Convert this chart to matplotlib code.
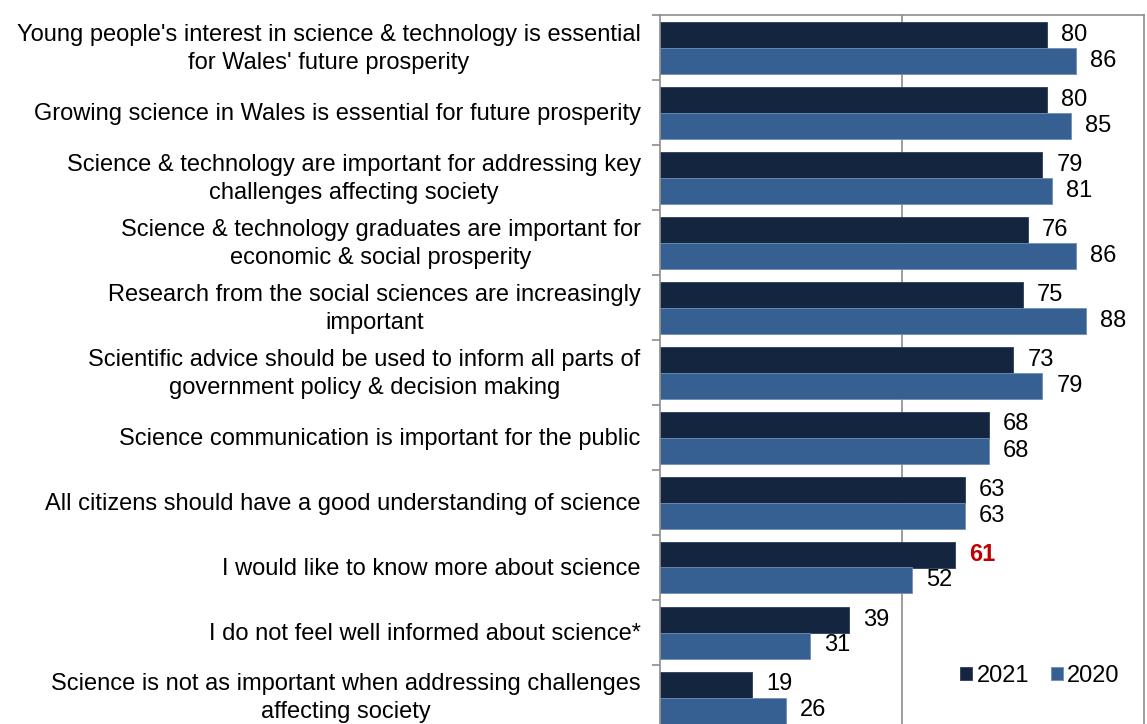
import matplotlib.pyplot as plt
import numpy as np

plt.rcParams['font.family'] = ['Liberation Sans', 'DejaVu Sans']

# Survey statements, top to bottom
statements = [
    "Young people's interest in science & technology is essential\nfor Wales' future prosperity",
    "Growing science in Wales is essential for future prosperity",
    "Science & technology are important for addressing key\nchallenges affecting society",
    "Science & technology graduates are important for\neconomic & social prosperity",
    "Research from the social sciences are increasingly\nimportant",
    "Scientific advice should be used to inform all parts of\ngovernment policy & decision making",
    "Science communication is important for the public",
    "All citizens should have a good understanding of science",
    "I would like to know more about science",
    "I do not feel well informed about science*",
    "Science is not as important when addressing challenges\naffecting society",
]
pct_2021 = [80, 80, 79, 76, 75, 73, 68, 63, 61, 39, 19]
pct_2020 = [86, 85, 81, 86, 88, 79, 68, 63, 52, 31, 26]
highlight = {8}  # 2021 label shown in red

c2021 = '#14253f'
c2020 = '#376092'
fs = 17

fig = plt.figure(figsize=(11.47, 7.24), dpi=100)
ax = fig.add_axes([660 / 1147, -6 / 724, 484 / 1147, 715 / 724])

n = len(statements)
y = np.arange(n)
h = 0.4
ax.axvline(50, color='#8c8c8c', linewidth=1.2, zorder=0)
ax.barh(y - h / 2, pct_2021, height=h, color=c2021, edgecolor='#2a3d5c', linewidth=0.6, label='2021', zorder=2)
ax.barh(y + h / 2, pct_2020, height=h, color=c2020, edgecolor='#6f8fb8', linewidth=0.6, label='2020', zorder=2)

off = 2.9
for i in range(n):
    if i in highlight:
        ax.text(pct_2021[i] + off, y[i] - h / 2, str(pct_2021[i]), va='center', ha='left',
                fontsize=fs, color='#c00000', fontweight='bold')
    else:
        ax.text(pct_2021[i] + off, y[i] - h / 2, str(pct_2021[i]), va='center', ha='left', fontsize=fs)
    ax.text(pct_2020[i] + off, y[i] + h / 2, str(pct_2020[i]), va='center', ha='left', fontsize=fs)

ax.set_xlim(0, 100)
ax.set_ylim(n - 0.5, -0.5)
ax.set_xticks([])

# category labels, right aligned with lines centred
ax.set_yticks([])
tr = ax.get_yaxis_transform()
for i, s in enumerate(statements):
    dy = 0.01 if i == n - 1 else 0.02
    ax.text(-0.04, y[i] + dy, s, transform=tr, fontsize=fs, ha='right', va='center',
            multialignment='center', linespacing=1.33)

ax.set_yticks(np.arange(n + 1) - 0.5, minor=True)
ax.tick_params(axis='y', which='minor', length=6, color='#8c8c8c', width=1.2)

for s in ['left', 'top', 'right', 'bottom']:
    ax.spines[s].set_color('#8c8c8c')
    ax.spines[s].set_linewidth(1.2)

ax.legend(loc='center right', bbox_to_anchor=(0.95, 0.0755), ncol=2, frameon=False, fontsize=fs,
          borderaxespad=0, borderpad=0,
          handlelength=0.5, handleheight=0.5, handletextpad=0.2, columnspacing=0.9)

fig.savefig('out.png', dpi=100)
